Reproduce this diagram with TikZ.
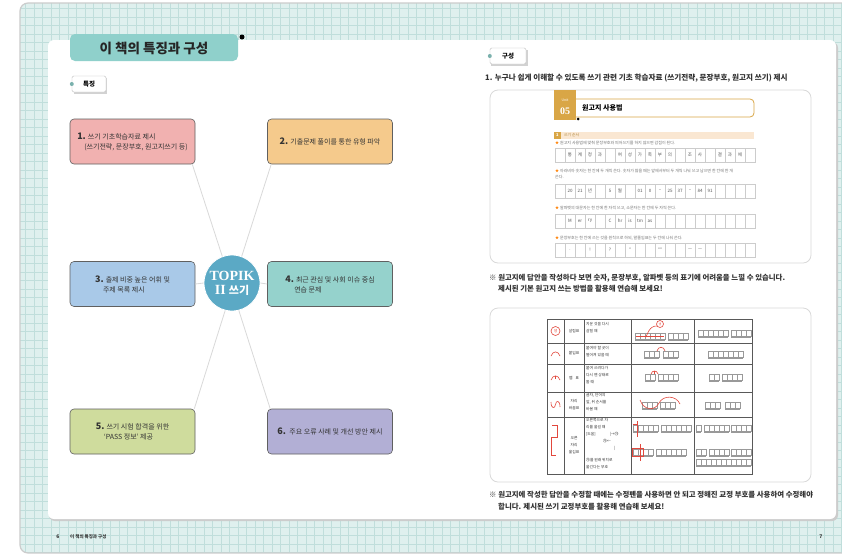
\documentclass[tikz,border=0pt]{standalone}
\usepackage{fontspec}
\setmainfont{Noto Sans CJK KR}
\newfontfamily\romanfont{Liberation Serif}
\usetikzlibrary{positioning}

\definecolor{gridbg}{HTML}{DFF0EE}
\definecolor{gridln}{HTML}{C0DEDB}
\definecolor{titleteal}{HTML}{8FD0CB}
\definecolor{boxpink}{HTML}{F1B1B0}
\definecolor{boxorange}{HTML}{F5CA8C}
\definecolor{boxblue}{HTML}{A9C9E8}
\definecolor{boxteal}{HTML}{95D2CC}
\definecolor{boxgreen}{HTML}{CFDC9D}
\definecolor{boxpurple}{HTML}{B2AFD5}
\definecolor{hubblue}{HTML}{5BA9C5}
\definecolor{unitgold}{HTML}{D9A646}
\definecolor{secbeige}{HTML}{FAE7D2}
\definecolor{markred}{HTML}{E2483D}
\definecolor{inktext}{HTML}{333333}

\newcommand{\txtsize}[2]{\fontsize{#1}{#2}\selectfont}
% a strip of manuscript cells with an underline
\newcommand{\cellrow}[3]{%
  \foreach \k in {1,...,#3}
    \draw[gray!80, line width=0.3pt] (#1+5*\k-5,#2) rectangle +(5,6);
  \draw[gray!80, line width=0.5pt] (#1,#2+7) -- +(5*#3,0);
}

\begin{document}
\begin{tikzpicture}[x=1pt, y=-1pt,
    featbox/.style={draw=gray!75!black, line width=0.6pt, rounded corners=4pt,
      minimum width=125pt, minimum height=45pt, align=left, text=inktext,
      font=\txtsize{7pt}{10pt}},
    spoke/.style={draw=gray!30, line width=0.8pt},
    hub/.style={circle, fill=hubblue, draw=white, line width=0.8pt, minimum size=56pt,
      inner sep=0pt, text=white, align=center, font=\bfseries\txtsize{14pt}{15pt}},
    tag/.style={draw=gray!50, fill=white, rounded corners=1.5pt, minimum width=34pt,
      minimum height=16pt, inner sep=0pt, font=\bfseries\txtsize{6.5pt}{7pt}},
    cell/.style={draw=gray!40, line width=0.4pt},
    note/.style={anchor=west, inner sep=0pt, text=inktext, font=\bfseries\txtsize{7.4pt}{8pt}},
    hint/.style={anchor=west, inner sep=0pt, text=gray!90!black, align=left, font=\txtsize{4pt}{6pt}},
    ms/.style={inner sep=0pt, text=gray!70!black, font=\txtsize{4.5pt}{5pt}},
    tbl/.style={inner sep=0pt, text=inktext, font=\txtsize{3.8pt}{7pt}, align=center},
    desc/.style={anchor=north west, inner sep=0pt, text=inktext, font=\txtsize{3.8pt}{7pt}, align=left},
    redmark/.style={draw=markred, line width=0.6pt},
    foot/.style={inner sep=0pt, text=inktext, font=\bfseries\txtsize{5pt}{6pt}}]

\useasboundingbox (0,0) rectangle (842,555);
\fill[white] (0,0) rectangle (842,555);

% book with grid paper
\begin{scope}
  \clip[rounded corners=8pt] (20,3) rectangle (870,553);
  \fill[gridbg] (20,3) rectangle (870,553);
  \draw[gridln, line width=0.4pt, step=8.5pt] (20,553) grid (870,3);
\end{scope}
\draw[gray!40, line width=1.2pt, rounded corners=8pt] (20,3) rectangle (870,553);

% white pages
\fill[gray!40, rounded corners=6pt] (49,42) rectangle (838,521);
\fill[white, rounded corners=6pt] (48,40) rectangle (836,519);

% left page: title and tag
\fill[titleteal, rounded corners=5pt] (70,34) rectangle (238,61);
\node[font=\bfseries\txtsize{13.5pt}{15pt}, text=black!85] (booktitle) at (154,48) {이 책의 특징과 구성};
\fill[black] (242,37) circle (2.5pt);

\fill[gray!35] (74,78) rectangle (107,94);
\node[tag] (featuretag) at (89,84) {특징};
\fill[titleteal!85!black] (featuretag.west) circle (2pt);

% mind map
\node[hub] (hub) at (232,283) {{\romanfont TOPIK}\\[-1pt]{\romanfont II} {\txtsize{11pt}{12pt}쓰기}};
\node[featbox, fill=boxpink] (f1) at (132.5,141.5)
  {{\bfseries\txtsize{9pt}{10pt}1.} 쓰기 기초학습자료 제시\\\hspace*{7pt}(쓰기전략, 문장부호, 원고지쓰기 등)};
\node[featbox, fill=boxorange] (f2) at (330,141.5)
  {{\bfseries\txtsize{9pt}{10pt}2.} 기출문제 풀이를 통한 유형 파악};
\node[featbox, fill=boxblue] (f3) at (132.5,284)
  {{\bfseries\txtsize{9pt}{10pt}3.} 출제 비중 높은 어휘 및\\\hspace*{8pt}주제 목록 제시};
\node[featbox, fill=boxteal] (f4) at (330,284)
  {{\bfseries\txtsize{9pt}{10pt}4.} 최근 관심 및 사회 이슈 중심\\\hspace*{9pt}연습 문제};
\node[featbox, fill=boxgreen] (f5) at (132.5,431.5)
  {{\bfseries\txtsize{9pt}{10pt}5.} 쓰기 시험 합격을 위한\\\hspace*{8pt}‘PASS 정보’ 제공};
\node[featbox, fill=boxpurple] (f6) at (330,431.5)
  {{\bfseries\txtsize{9pt}{10pt}6.}\, 주요 오류 사례 및 개선 방안 제시};

\draw[spoke] ([xshift=-3pt]f1.south east) -- (hub.110);
\draw[spoke] ([xshift=4pt]f2.south west) -- (hub.70);
\draw[spoke] (f3.east) -- (hub.west);
\draw[spoke] (f4.west) -- (hub.east);
\draw[spoke] ([xshift=-1pt]f5.north east) -- (hub.-104);
\draw[spoke] ([xshift=3pt]f6.north west) -- (hub.-76);

% right page: tag and heading
\fill[gray!35] (491,50) rectangle (528,66);
\node[tag, minimum width=36pt] (structtag) at (508,56) {구성};
\fill[titleteal!85!black] (structtag.west) circle (2pt);
\node[note, font=\bfseries\txtsize{7.6pt}{8pt}] (structhead) at (485,78)
  {1. 누구나 쉽게 이해할 수 있도록 쓰기 관련 기초 학습자료 (쓰기전략, 문장부호, 원고지 쓰기) 제시};

% first sample panel
\draw[gray!30, line width=0.8pt, rounded corners=8pt] (490,90) rectangle (811,263);
\draw[unitgold, line width=0.8pt, rounded corners=4pt, fill=white] (568,99) rectangle (754,117);
\fill[unitgold] (554,90) rectangle (576,120);
\node[text=white, font=\txtsize{3.5pt}{4pt}] (unitlbl) at (565,100) {Unit};
\node[text=white, font=\romanfont\bfseries\txtsize{10pt}{10pt}] (unitnum) at (565,111) {05};
\node[anchor=west, inner sep=0pt, font=\bfseries\txtsize{7pt}{8pt}] (unittitle) at (582,108) {원고지 사용법};
\fill[black] (578,119) circle (1.5pt);

\fill[secbeige] (554,132) rectangle (754,138.5);
\fill[unitgold] (554,132) rectangle (560.5,138.5);
\node[text=white, inner sep=0pt, font=\bfseries\txtsize{4pt}{4pt}] (secnum) at (557.3,135.3) {1};
\node[anchor=west, inner sep=0pt, text=unitgold!80!black, font=\txtsize{3.8pt}{4pt}] (sectitle) at (564,135.3) {쓰기 순서};

\node[hint] (hint1) at (555,143) {\textcolor{orange}{★} 원고지 사용법에 맞춰 문장부호와 띄어쓰기를 하지 않으면 감점이 된다.};
\node[hint] (hint2) at (555,174) {\textcolor{orange}{★} 아라비아 숫자는 한 칸에 두 개씩 쓴다. 숫자가 많을 때는 앞에서부터 두 개씩 나눠 쓰고 남으면 한 칸에 한 개\\쓴다.};
\node[hint] (hint3) at (555,208) {\textcolor{orange}{★} 알파벳의 대문자는 한 칸에 한 자씩 쓰고, 소문자는 한 칸에 두 자씩 쓴다.};
\node[hint] (hint4) at (555,238) {\textcolor{orange}{★} 문장부호는 한 칸에 쓰는 것을 원칙으로 하되, 말줄임표는 두 칸에 나눠 쓴다.};

\foreach \ry in {148,184,214,243}
  \foreach \i in {0,...,19}
    \draw[cell] (555+10*\i,\ry) rectangle +(10,14);
\foreach \i/\c in {1/통,2/계,3/청,4/과,6/여,7/성,8/가,9/족,10/부,11/의,13/조,14/사,16/결,17/과,18/에}
  \node[ms] (ra\i) at (560+10*\i,155) {\c};
\foreach \i/\c in {1/20,2/21,3/년,5/5,6/월,8/01,9/0,10/–,11/25,12/37,13/–,14/84,15/91}
  \node[ms] (rb\i) at (560+10*\i,191) {\c};
\foreach \i/\c in {1/M,2/er,3/ry,5/C,6/hr,7/is,8/tm,9/as}
  \node[ms] (rc\i) at (560+10*\i,221) {\c};
\foreach \i/\c in {1/.,3/!,5/?,7/‘’,10/“”,13/—,14/—}
  \node[ms] (rd\i) at (560+10*\i,250) {\c};

\node[note] (note1) at (489,278) {※ 원고지에 답안을 작성하다 보면 숫자, 문장부호, 알파벳 등의 표기에 어려움을 느낄 수 있습니다.};
\node[note] (note1b) at (498,289) {제시된 기본 원고지 쓰는 방법을 활용해 연습해 보세요!};

% second sample panel: proofreading marks
\draw[gray!30, line width=0.8pt, rounded corners=8pt] (490,308) rectangle (811,482);
\draw[gray!70!black, line width=0.5pt] (547,319) rectangle (752,474);
\foreach \cx in {564,584,631,694}
  \draw[gray!70!black, line width=0.5pt] (\cx,319) -- (\cx,474);
\foreach \ry in {343,364,392,417}
  \draw[gray!70!black, line width=0.5pt] (547,\ry) -- (752,\ry);

% marks
\draw[redmark] (555.5,331) circle (4.5pt);
\node[tbl, text=markred] (mk1) at (555.5,331) {생};
\draw[redmark] (551,356) .. controls (553,350.5) and (558,350.5) .. (560,356);
\draw[redmark] (551,380) .. controls (553,374.5) and (558,374.5) .. (560,380);
\draw[redmark] (555.5,375.5) -- (555.5,378.5);
\draw[redmark] (551,402) .. controls (551,409) and (555,409) .. (555.5,404.5) .. controls (556,400) and (560,400) .. (560,407);
\draw[redmark] (552,425) -- (557,425) -- (557,437) -- (551,437) -- (551,455) -- (556,455);

\node[tbl] (nm1) at (574,331) {살림표};
\node[tbl] (nm2) at (574,353.5) {붙임표};
\node[tbl] (nm3) at (574,378) {뗌\hspace{3pt}표};
\node[tbl] (nm4) at (574,404.5) {자리\\바꿈표};
\node[tbl] (nm5) at (574,445.5) {오른\\자리\\옮김표};

\node[desc] (ds1) at (586,322) {지운 것을 다시\\살릴 때};
\node[desc] (ds2) at (586,346) {붙여야 할 곳이\\떨어져 있을 때};
\node[desc] (ds3) at (586,366) {붙여 쓰려다가\\다시 뗀 상태로\\둘 때};
\node[desc] (ds4) at (586,393) {글자, 단어의\\앞, 뒤 순서를\\바꿀 때};
\node[desc] (ds5) at (586,418) {오른쪽으로 자\\리를 옮길 때\\{[}도움{]}\hspace{14pt}|→㉮\\\hspace{17pt}㉮←\\\hspace{28pt}|\\\\[-2pt]㉮를 원래 위치로\\옮긴다는 부호};

% examples, before and after
\cellrow{635}{333}{6}
\cellrow{668}{333}{4}
\draw[redmark] (636,336) -- (664,336);
\draw[redmark] (660,324) circle (3.5pt);
\node[tbl, text=markred, font=\txtsize{3pt}{4pt}] (ex1mk) at (660,324) {생};
\draw[redmark] (646,337) .. controls (650,326) and (654,326) .. (657,326);
\cellrow{698}{330}{6}
\cellrow{731}{330}{4}

\cellrow{644}{351}{3}
\cellrow{663}{351}{3}
\draw[redmark] (657,351) .. controls (658,346) and (664,346) .. (665,351);
\cellrow{708}{351}{7}

\cellrow{645}{374}{2}
\cellrow{658}{374}{4}
\draw[redmark] (651,374) .. controls (652,370) and (657,370) .. (658,374);
\draw[redmark] (654.5,371) -- (654.5,373.5);
\cellrow{709}{374}{2}
\cellrow{722}{374}{4}

\cellrow{642}{402}{3}
\cellrow{660}{402}{3}
\draw[redmark] (640,400) .. controls (644,411) and (655,411) .. (659,403) .. controls (663,395) and (676,395) .. (680,404);
\cellrow{705}{402}{3}
\cellrow{725}{402}{3}

\cellrow{633}{425}{5}
\cellrow{661}{425}{6}
\draw[redmark] (637,421) -- (637,437);
\draw[redmark] (633,424) -- (637,424);
\cellrow{633}{449}{4}
\cellrow{656}{449}{6}
\draw[redmark] (632,448) rectangle (643,456.5);
\draw[redmark] (640,444) -- (640,461);
\cellrow{696}{425}{1}
\cellrow{704}{425}{5}
\cellrow{731}{425}{4}
\cellrow{696}{449}{2}
\cellrow{709}{449}{4}
\cellrow{731}{449}{4}
\cellrow{696}{459}{11}

\node[note] (note2) at (489,495) {※ 원고지에 작성한 답안을 수정할 때에는 수정펜을 사용하면 안 되고 정해진 교정 부호를 사용하여 수정해야};
\node[note] (note2b) at (498,507) {합니다. 제시된 쓰기 교정부호를 활용해 연습해 보세요!};

% footers
\node[foot] (pgleft) at (58,537) {6};
\node[foot, anchor=west, font=\bfseries\txtsize{4.5pt}{5pt}] (runhead) at (70,537) {이 책의 특징과 구성};
\node[foot] (pgright) at (821,537) {7};
\end{tikzpicture}
\end{document}
